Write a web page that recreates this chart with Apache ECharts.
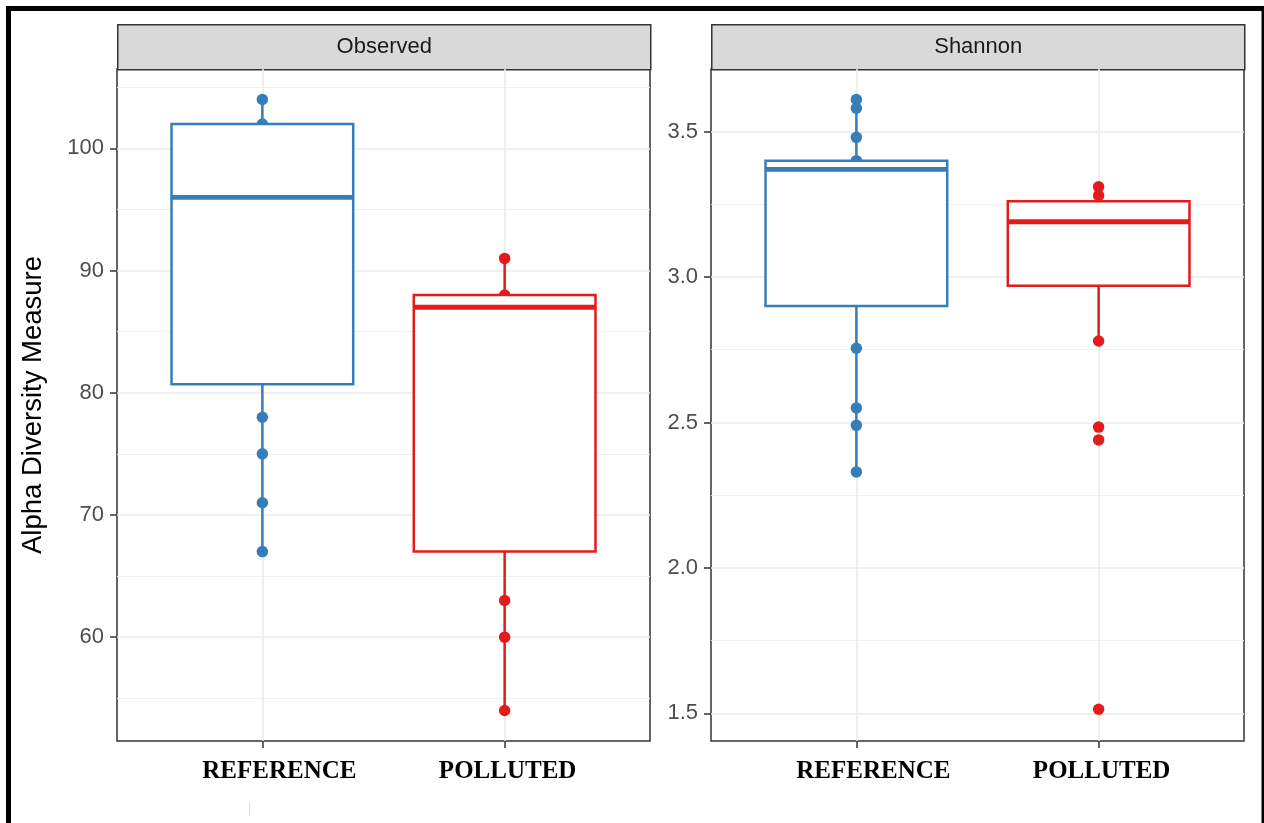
<!DOCTYPE html>
<html><head><meta charset="utf-8">
<script src="https://cdn.jsdelivr.net/npm/echarts@6/dist/echarts.min.js"></script>
<style>html,body{margin:0;padding:0;background:#fff}#c{width:1264px;height:823px}</style>
</head><body><div id="c"></div>
<script>
// ---------- data ----------
const groups = ['REFERENCE', 'POLLUTED'];
const panels = ['Observed', 'Shannon'];
const groupColors = ['#377eb8', '#e41a1c'];

// box stats: [lower whisker, Q1, median, Q3, upper whisker]
const observedBoxRef = [67, 80.7, 96, 102, 104];
const observedBoxPol = [54, 67, 87, 88, 91];
const shannonBoxRef = [2.33, 2.90, 3.37, 3.40, 3.61];
const shannonBoxPol = [2.78, 2.97, 3.19, 3.26, 3.31];

// visible sample points
const observedPointsRef = [104, 102, 78, 75, 71, 67];
const observedPointsPol = [91, 88, 63, 60, 54];
const shannonPointsRef = [3.61, 3.58, 3.48, 3.40, 2.755, 2.55, 2.49, 2.33];
const shannonPointsPol = [3.31, 3.28, 2.78, 2.484, 2.44, 1.514];

// axes
const observedTicks = [60, 70, 80, 90, 100];
const observedMinor = [55, 65, 75, 85, 95, 105];
const shannonTicks = [1.5, 2.0, 2.5, 3.0, 3.5];
const shannonMinor = [1.75, 2.25, 2.75, 3.25];
const observedRange = [51.5, 106.5];
const shannonRange = [1.405, 3.715];
const yTitle = 'Alpha Diversity Measure';

// ---------- layout ----------
const grids = [
  {left: 117, top: 69, width: 533, height: 672},
  {left: 711, top: 69, width: 533, height: 672}
];
const stripTop = 24;
const labelShift = [34, 6]; // left padding of x labels (label appears offset right)

const chart = echarts.init(document.getElementById('c'), null, {renderer: 'canvas'});

function boxItem(xPos, stats, ci) { return [xPos, ...stats, ci]; }

function renderBox(params, api) {
  const x = api.value(0);
  const lo = api.value(1), q1 = api.value(2), med = api.value(3), q3 = api.value(4), hi = api.value(5);
  const color = groupColors[api.value(6)];
  const half = api.size([0.75, 0])[0] / 2;
  const pLo = api.coord([x, lo]), pQ1 = api.coord([x, q1]), pMed = api.coord([x, med]),
        pQ3 = api.coord([x, q3]), pHi = api.coord([x, hi]);
  const cx = pLo[0];
  const lw = 2.5;
  return {type: 'group', children: [
    {type: 'line', shape: {x1: cx, y1: pQ3[1], x2: cx, y2: pHi[1]}, style: {stroke: color, lineWidth: lw}},
    {type: 'line', shape: {x1: cx, y1: pQ1[1], x2: cx, y2: pLo[1]}, style: {stroke: color, lineWidth: lw}},
    {type: 'rect', shape: {x: cx - half, y: pQ3[1], width: 2 * half, height: pQ1[1] - pQ3[1]},
      style: {fill: '#ffffff', stroke: color, lineWidth: lw}},
    {type: 'line', shape: {x1: cx - half, y1: pMed[1], x2: cx + half, y2: pMed[1]}, style: {stroke: color, lineWidth: 4.8}}
  ]};
}

const xLabelFont = {fontFamily: 'Liberation Serif', fontWeight: 'bold', fontSize: 25, color: '#000000'};

function xAxisFor(gi) {
  return {
    type: 'value', gridIndex: gi, min: 0.4, max: 2.6,
    axisLine: {show: false},
    axisTick: {show: true, length: 7, lineStyle: {color: '#333333', width: 1.5}, customValues: [1, 2]},
    axisLabel: Object.assign({show: true, customValues: [1, 2], margin: 18,
      formatter: v => { const i = Math.round(v) - 1; return groups[i] ? '{g' + i + '|' + groups[i] + '}' : ''; },
      rich: {
        g0: Object.assign({padding: [0, 0, 0, labelShift[0]]}, xLabelFont),
        g1: Object.assign({padding: [0, 0, 0, labelShift[1]]}, xLabelFont)
      }}, xLabelFont),
    splitLine: {show: true, lineStyle: {color: '#ebebeb', width: 1.6}}
  };
}
function yAxisMajor(gi, range, ticks, fmt, withName) {
  const ax = {
    type: 'value', gridIndex: gi, min: range[0], max: range[1],
    axisLine: {show: false},
    axisTick: {show: true, length: 7, lineStyle: {color: '#333333', width: 1.5}, customValues: ticks},
    axisLabel: {show: true, customValues: ticks, margin: 13, formatter: fmt,
      fontFamily: 'Liberation Sans', fontSize: 22, color: '#4d4d4d'},
    splitLine: {show: true, lineStyle: {color: '#ebebeb', width: 1.6}}
  };
  if (withName) {
    Object.assign(ax, {name: yTitle, nameLocation: 'middle', nameRotate: 90, nameGap: 70,
      nameTextStyle: {fontFamily: 'Liberation Sans', fontSize: 27.5, color: '#000000'}});
  }
  return ax;
}
function yAxisMinor(gi, range, minor) {
  return {
    type: 'value', gridIndex: gi, min: range[0], max: range[1], position: 'left',
    axisLine: {show: false},
    axisTick: {show: false, customValues: minor},
    axisLabel: {show: false, customValues: minor},
    splitLine: {show: true, lineStyle: {color: '#eeeeee', width: 0.9}}
  };
}

function pts(xPos, arr) { return arr.map(v => [xPos, v]); }
function scatterSeries(ax, arr, xPos, ci) {
  return {type: 'scatter', xAxisIndex: ax, yAxisIndex: ax, z: 1, symbolSize: 11.5, silent: true,
    data: pts(xPos, arr), itemStyle: {color: groupColors[ci], opacity: 1}};
}

const option = {
  animation: false,
  backgroundColor: '#ffffff',
  grid: grids.map(g => Object.assign({}, g, {show: true, borderColor: '#333333', borderWidth: 1.5, backgroundColor: 'transparent'})),
  xAxis: [xAxisFor(0), xAxisFor(1)],
  yAxis: [
    yAxisMajor(0, observedRange, observedTicks, v => String(v), true),
    yAxisMajor(1, shannonRange, shannonTicks, v => v.toFixed(1), false),
    yAxisMinor(0, observedRange, observedMinor),
    yAxisMinor(1, shannonRange, shannonMinor)
  ],
  series: [
    scatterSeries(0, observedPointsRef, 1, 0),
    scatterSeries(0, observedPointsPol, 2, 1),
    scatterSeries(1, shannonPointsRef, 1, 0),
    scatterSeries(1, shannonPointsPol, 2, 1),
    {type: 'custom', xAxisIndex: 0, yAxisIndex: 0, z: 3, renderItem: renderBox, silent: true,
      encode: {x: 0, y: [1, 2, 3, 4, 5]},
      data: [boxItem(1, observedBoxRef, 0), boxItem(2, observedBoxPol, 1)]},
    {type: 'custom', xAxisIndex: 1, yAxisIndex: 1, z: 3, renderItem: renderBox, silent: true,
      encode: {x: 0, y: [1, 2, 3, 4, 5]},
      data: [boxItem(1, shannonBoxRef, 0), boxItem(2, shannonBoxPol, 1)]}
  ],
  graphic: [
    // facet strips
    ...grids.map((g, i) => ({
      type: 'group', left: g.left, top: stripTop,
      children: [
        {type: 'rect', shape: {x: 0, y: 0, width: g.width, height: g.top - stripTop},
          style: {fill: '#d9d9d9', stroke: '#333333', lineWidth: 1.5}},
        {type: 'text', x: g.width / 2, y: (g.top - stripTop) / 2,
          style: {text: panels[i], fill: '#1a1a1a', font: '22px "Liberation Sans"', align: 'center', verticalAlign: 'middle'}}
      ]
    })),
    // outer black frame
    {type: 'rect', left: 6, top: 6, silent: true, z: 100,
      shape: {x: 0, y: 0, width: 1255.5, height: 900},
      style: {fill: 'none', stroke: '#000000', lineWidth: 5}},
    // faint scan mark
    {type: 'line', silent: true, shape: {x1: 249.5, y1: 802, x2: 249.5, y2: 816},
      style: {stroke: '#dddddd', lineWidth: 1}}
  ]
};
chart.setOption(option);
</script>
</body></html>
